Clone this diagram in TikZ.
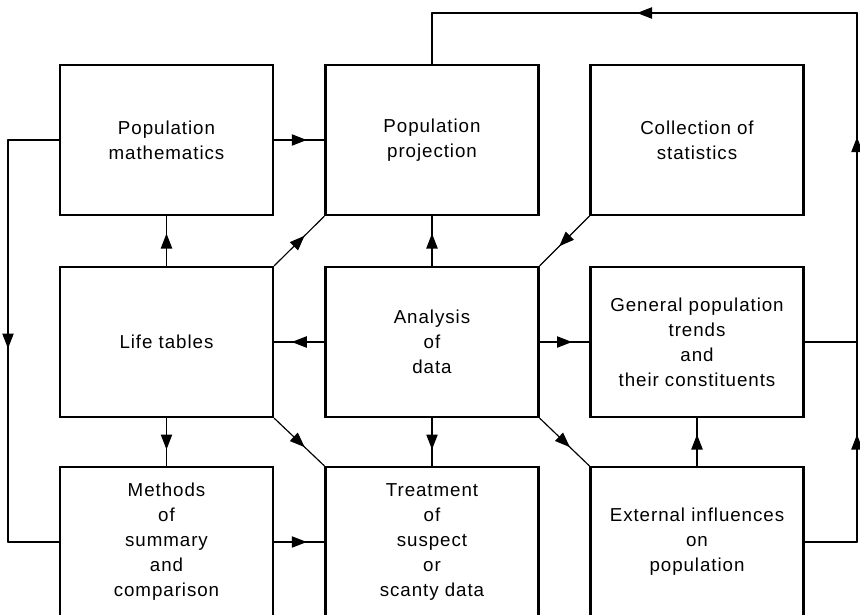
\documentclass[tikz,border=0pt]{standalone}
\usepackage{fontspec}
\setmainfont{Liberation Sans}[LetterSpace=5]
\usetikzlibrary{arrows.meta,decorations.markings}
\tikzset{
  >={Triangle[length=4.5mm,width=3.4mm]},
  box/.style={draw, line width=2pt, minimum width=63.9mm, minimum height=45mm,
    align=center, inner sep=0pt, font=\fontsize{16}{21.3}\selectfont},
  link/.style={line width=1pt, line cap=round, line join=round},
  midarrow/.style={link, decoration={markings,
    mark=at position #1 with {\arrow[xshift=2.25mm]{>}}}, postaction={decorate}},
  midarrow/.default=0.5,
}

\begin{document}
\begin{tikzpicture}[x=0.3mm, y=-0.3mm]
\useasboundingbox (0,0) rectangle (860,614);
\clip (0,0) rectangle (860,614);

% Boxes, three rows of three
\node[box] (mat) at (166.5,140) {Population\\mathematics};
\node[box] (proj) at (432,140) {Population\\projection};
\node[box] (coll) at (697,140) {Collection of\\statistics};

\node[box] (life) at (166.5,342) {Life tables};
\node[box] (anal) at (432,342) {Analysis\\of\\data};
\node[box] (gen) at (697,342) {General population\\trends\\and\\their constituents};

\node[box] (meth) at (166.5,542) {Methods\\of\\summary\\and\\comparison};
\node[box] (treat) at (432,542) {Treatment\\of\\suspect\\or\\scanty data};
\node[box] (ext) at (697,542) {External influences\\on\\population};

% Links between neighbouring boxes
\draw[midarrow] (mat.east) -- (proj.west);
\draw[midarrow] (life.north) -- (mat.south);
\draw[midarrow] (life.north east) -- (proj.south west);
\draw[midarrow] (anal.north) -- (proj.south);
\draw[midarrow] (coll.south west) -- (anal.north east);
\draw[midarrow] (anal.west) -- (life.east);
\draw[midarrow] (anal.east) -- (gen.west);
\draw[midarrow] (life.south) -- (meth.north);
\draw[midarrow] (life.south east) -- (treat.north west);
\draw[midarrow] (anal.south) -- (treat.north);
\draw[midarrow] (anal.south east) -- (ext.north west);
\draw[midarrow] (ext.north) -- (gen.south);
\draw[midarrow] (meth.east) -- (treat.west);

% Left loop
\coordinate (lt) at (8,140);
\coordinate (lb) at (8,542);
\draw[link] (mat.west) -- (lt) -- (lb) -- (meth.west);
\draw[midarrow] (lt) -- (lb);

% Right loop back to projection
\coordinate (r1) at (857,542);
\coordinate (r2) at (857,342);
\coordinate (r3) at (857,13);
\coordinate (r4) at (432,13);
\draw[link] (ext.east) -- (r1) -- (r3) -- (r4) -- (proj.north);
\draw[link] (gen.east) -- (r2);
\draw[midarrow] (r1) -- (r2);
\draw[midarrow=0.6] (r2) -- (r3);
\draw[midarrow] (r3) -- (r4);

\end{tikzpicture}
\end{document}
